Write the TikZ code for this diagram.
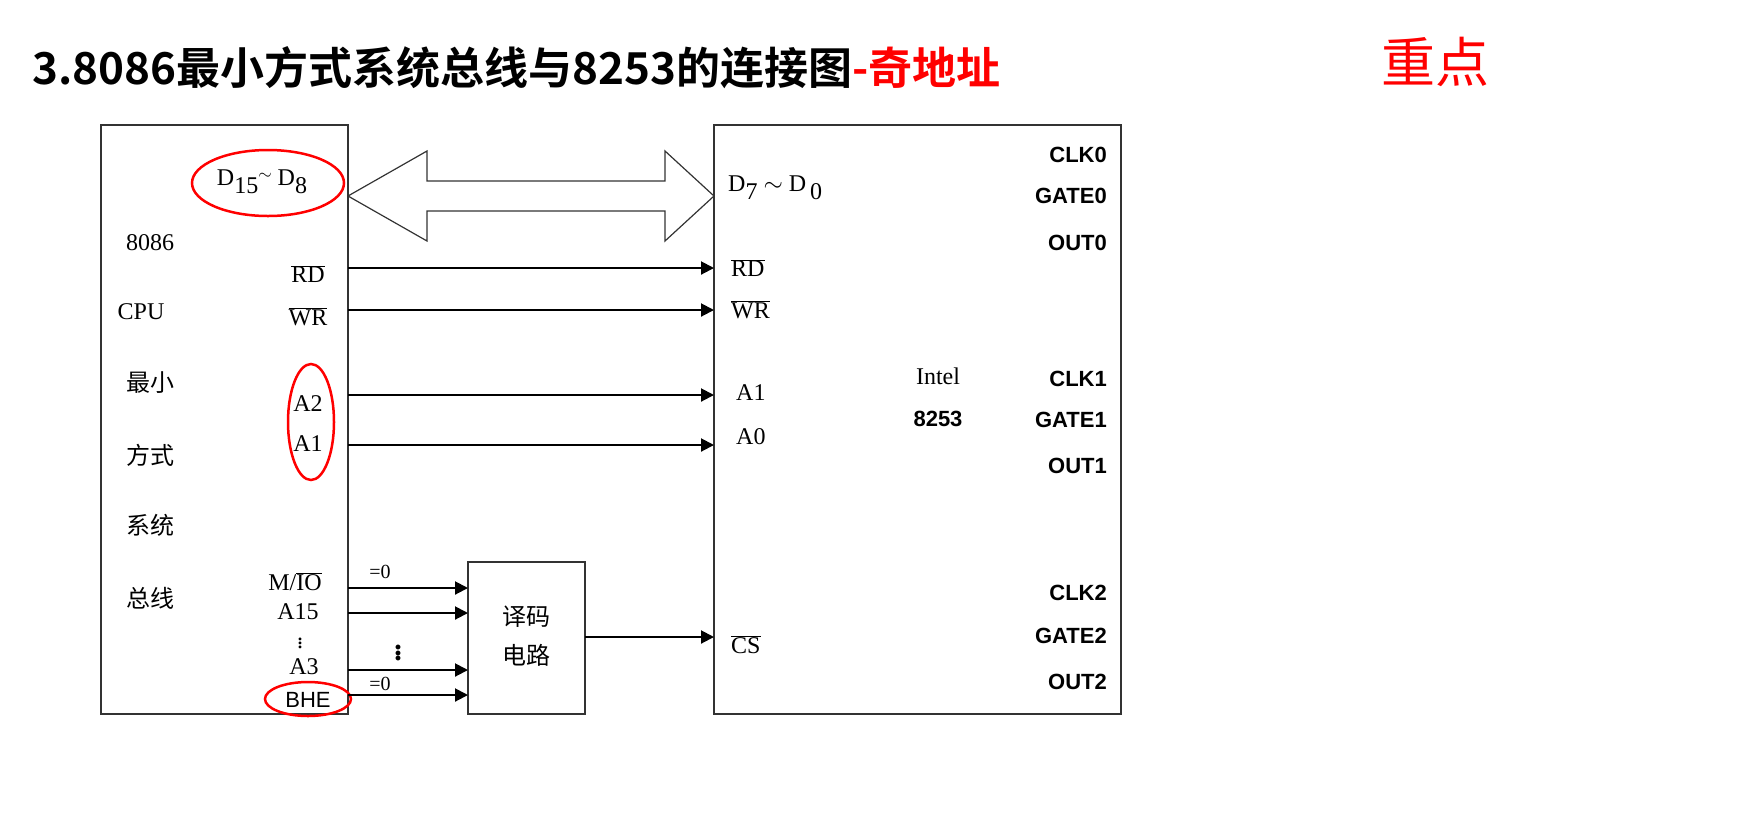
\documentclass[tikz,border=0pt]{standalone}
\usepackage{fontspec}
\setmainfont{Liberation Serif}
\newfontfamily\cjk{Noto Sans CJK SC}
\newfontfamily\cjkb{Noto Sans CJK SC}[BoldFont={Noto Sans CJK SC Bold}]
\newfontfamily\sansb{Liberation Sans}
\usetikzlibrary{arrows.meta}
\newcommand{\lowsub}[1]{\raisebox{-8pt}{#1}}
\begin{document}
\begin{tikzpicture}[x=1pt,y=-1pt,
  box/.style={draw=black!80,line width=1.5pt},
  sig/.style={line width=2pt,-{Triangle[length=13pt,width=13pt]}},
  lab/.style={inner sep=0pt,font=\fontsize{24}{26}\selectfont},
  cl/.style={inner sep=0pt,font=\fontsize{24}{26}\selectfont\cjk},
  pin/.style={inner sep=0pt,anchor=east,font=\fontsize{22}{24}\selectfont\sansb\bfseries},
  ring/.style={draw=red,line width=2.5pt}]
\useasboundingbox (0,0) rectangle (1747,815);
% title
\node[anchor=west,inner sep=0pt,font=\fontsize{44}{48}\selectfont\cjkb\bfseries] (title) at (32,68) {3.8086最小方式系统总线与8253的连接图\textcolor{red}{-奇地址}};
\node[inner sep=0pt,text=red,font=\fontsize{54}{58}\selectfont\cjk] (key) at (1435,62) {重点};
% boxes
\node[box,minimum width=247pt,minimum height=589pt,inner sep=0pt] (cpu) at (224.5,419.5) {};
\node[box,minimum width=407pt,minimum height=589pt,inner sep=0pt] (tim) at (917.5,419.5) {};
\node[box,minimum width=117pt,minimum height=152pt,inner sep=0pt] (dec) at (526.5,638) {};
% bus
\draw[line width=1.2pt,black!80] (348,196) -- (427,151) -- (427,181) -- (665,181) -- (665,151) -- (714,196)
  -- (665,241) -- (665,211) -- (427,211) -- (427,241) -- cycle;
% cpu text
\node[lab] (d15) at (262,182) {D\lowsub{15}\raisebox{6pt}{\fontsize{18}{20}\selectfont$\sim$} D\lowsub{8}};
\draw[ring] (268,183) ellipse [x radius=76pt, y radius=33pt];
\node[lab] (c1) at (150,243) {8086};
\node[lab] (c2) at (141,312) {CPU};
\node[cl] (c3) at (150,383) {最小};
\node[cl] (c4) at (150,455) {方式};
\node[cl] (c5) at (150,525) {系统};
\node[cl] (c6) at (150,598) {总线};
\node[lab] (rd) at (308,274) {$\overline{\mbox{RD}}$};
\node[lab] (wr) at (308,317) {$\overline{\mbox{WR}}$};
\node[lab] (a2) at (308,404) {A2};
\node[lab] (a1) at (308,444) {A1};
\draw[ring] (311,422) ellipse [x radius=23pt, y radius=58pt];
\node[lab] (mio) at (295,582) {M/$\overline{\mbox{IO}}$};
\node[lab] (a15) at (298,612) {A15};
\node[lab] (vd) at (300,640) {$\vdots$};
\node[lab] (a3) at (304,667) {A3};
\node[inner sep=0pt,font=\fontsize{22}{24}\selectfont\sansb] (bhe) at (308,700) {BHE};
\draw[ring] (308,699) ellipse [x radius=43pt, y radius=17pt];
\foreach \n/\y in {rd/268,wr/310,a2/395,a1/445}{
  \coordinate (s\n) at (348,\y); \coordinate (t\n) at (714,\y);
  \draw[sig] (s\n) -- (t\n);}
\foreach \n/\y in {m/588,b/613,c/670,d/695}{
  \coordinate (s\n) at (348,\y); \coordinate (t\n) at (468,\y);
  \draw[sig] (s\n) -- (t\n);}
\node[inner sep=0pt,font=\fontsize{20}{22}\selectfont] (e1) at (380,572) {=0};
\node[inner sep=0pt,font=\fontsize{20}{22}\selectfont] (e2) at (380,684) {=0};
\node[inner sep=0pt,font=\fontsize{30}{32}\selectfont\bfseries] (vd2) at (398,650) {$\vdots$};
\node[cl] (dt) at (526,617) {译码};
\node[cl] (db) at (526,655) {电路};
\coordinate (so) at (585,637); \coordinate (to) at (714,637);
\draw[sig] (so) -- (to);
% timer left
\node[lab,anchor=west] (d7) at (728,188) {D\lowsub{7} $\sim$ D\,\lowsub{0}};
\node[lab,anchor=west] (rrd) at (731,268) {$\overline{\mbox{RD}}$};
\node[lab,anchor=west] (rwr) at (731,310) {$\overline{\mbox{WR}}$};
\node[lab,anchor=west] (ra1) at (736,393) {A1};
\node[lab,anchor=west] (ra0) at (736,437) {A0};
\node[lab,anchor=west] (rcs) at (731,645) {$\overline{\mbox{CS}}$};
\node[lab] (intel) at (938,376) {Intel};
\node[inner sep=0pt,font=\fontsize{22}{24}\selectfont\sansb\bfseries] (n8253) at (938,419) {8253};
\foreach \t/\y in {CLK0/155,GATE0/196,OUT0/243,CLK1/379,GATE1/420,OUT1/466,CLK2/593,GATE2/636,OUT2/682}
  \node[pin] (p\t) at (1107,\y) {\t};
\end{tikzpicture}
\end{document}
